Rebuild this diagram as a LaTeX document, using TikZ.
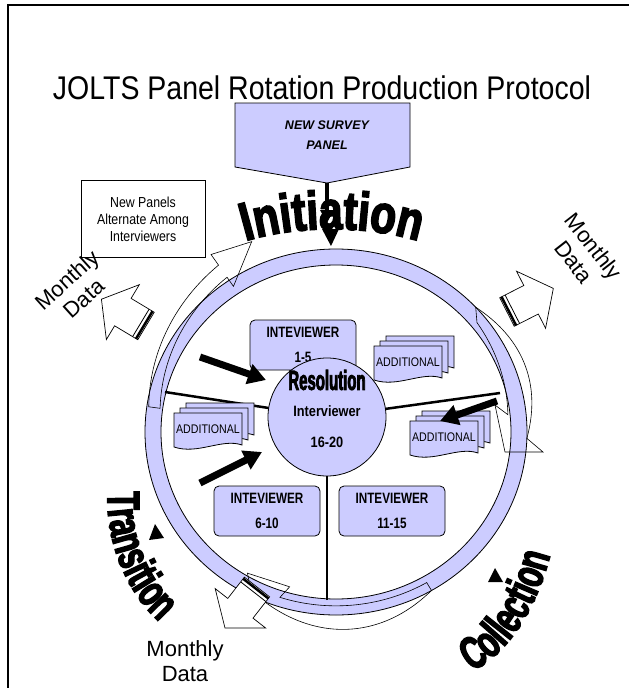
\documentclass[tikz,border=0pt]{standalone}
\usepackage{fontspec}
\setmainfont{Liberation Sans}
\newfontfamily\heavyfont{Liberation Sans}[UprightFont=* Bold, FakeBold=3, FakeStretch=0.78]
\newfontfamily\heavyfontn{Liberation Sans}[UprightFont=* Bold, FakeBold=3, FakeStretch=0.65]
\newfontfamily\narrowfont{Liberation Sans}[FakeStretch=0.85]
\newfontfamily\narrowerfont{Liberation Sans}[FakeStretch=0.78]
\usetikzlibrary{arrows.meta,decorations.text}
\definecolor{lav}{RGB}{204,204,255}
\newcommand\ringcx{336}
\newcommand\ringcy{432}
\newcommand\rcoord[3]{\coordinate (#1) at ({\ringcx+(#3)*191*cos(#2)},{\ringcy-(#3)*183*sin(#2)});}
\newcommand\mdarrow[3]{%
  \begin{scope}[shift={(#1,#2)}, rotate=#3]
    \path[draw=black, line width=0.7, fill=white] (0,-16) -- (27,-16) -- (27,-32) -- (52,0) -- (27,32) -- (27,16) -- (0,16) -- cycle;
    \draw[line width=2.5] (2,-16) -- (2,16);
    \draw[line width=0.8] (6,-16) -- (6,16);
  \end{scope}}
\newcommand\docstack[3]{%
  \begin{scope}[shift={(#2,#3)}]
    \foreach \dx/\dy in {12/-10, 6/-5, 0/0}{
      \path[lavfill] (\dx,\dy) -- (\dx+68,\dy) -- (\dx+68,\dy+32) .. controls (\dx+48,\dy+25) and (\dx+24,\dy+42) .. (\dx,\dy+34) -- cycle;
    }
    \node[font=\narrowfont\fontsize{12.5}{14}\selectfont, inner sep=0] (#1) at (34,16) {ADDITIONAL};
  \end{scope}}
\tikzset{
  lavfill/.style={fill=lav, draw=black, line width=0.8},
  thinline/.style={draw=black, line width=0.6},
  ivbox/.style={lavfill, rounded corners=5, minimum width=106, minimum height=50, align=center,
    font=\narrowerfont\bfseries\fontsize{15}{25}\selectfont, inner sep=0},
  bigarrow/.style={line width=7, -{Triangle[width=20pt,length=18pt]}},
  spoke/.style={line width=2.5},
  mdtext/.style={font=\fontsize{22}{25}\selectfont, align=center, inner sep=0},
}
\begin{document}
\begin{tikzpicture}[x=1pt,y=-1pt]
\useasboundingbox (0,0) rectangle (629,688);
\fill[white] (0,0) rectangle (629,688);
\draw[line width=1.5] (8,690) -- (8,5) -- (631,5);

% title
\node[font=\fontsize{28.5}{30}\selectfont, inner sep=0] (title) at (322,88) {\scalebox{1}[1.15]{JOLTS Panel Rotation Production Protocol}};

% new survey panel
\path[lavfill] (235,103) -- (410,103) -- (410,167) -- (327,183) -- (235,167) -- cycle;
\coordinate (nspTip) at (327,183);
\node[font=\bfseries\itshape\fontsize{12.5}{20}\selectfont, align=center] (nsp) at (327,135) {NEW SURVEY\\PANEL};
\coordinate (initTop) at (327,223);
\draw[line width=3.5, -{Triangle[width=13pt,length=13pt]}] (nspTip) -- (initTop);

% note box
\node[draw, line width=0.8, minimum width=124, minimum height=77, align=center,
  font=\narrowfont\fontsize{14.5}{17}\selectfont] (np) at (143,219) {New Panels\\Alternate Among\\Interviewers};

% ring
\path[lavfill, even odd rule] (\ringcx,\ringcy) ellipse [x radius=191, y radius=183]
  (\ringcx,\ringcy) ellipse [x radius=175, y radius=167];

% curved arrow A (upper left)
\rcoord{aHo}{124}{1.17}
\rcoord{aTip}{113}{1.13}
\rcoord{aHi}{124}{0.96}
\draw[thinline] plot[domain=172:124, samples=40] ({\ringcx+(0.99+0.00229*(172-\x))*191*cos(\x)},{\ringcy-(0.99+0.00229*(172-\x))*183*sin(\x)})
  -- (aHo) -- (aTip) -- (aHi)
  -- plot[domain=124:172, samples=40] ({\ringcx+(0.93+0.00188*(172-\x))*191*cos(\x)},{\ringcy-(0.93+0.00188*(172-\x))*183*sin(\x)}) -- cycle;

% curved arrow B (right)
\coordinate (bHo) at (543,452);
\coordinate (bTip) at (505,452);
\coordinate (bHi) at (495,405);
\draw[thinline] plot[domain=43:-2, samples=40] ({\ringcx+(1+0.055*sin(4*(43-\x)))*191*cos(\x)},{\ringcy-(1+0.055*sin(4*(43-\x)))*183*sin(\x)})
  -- (bHo) -- (bTip) -- (bHi)
  -- plot[domain=6:39, samples=40] ({\ringcx+(0.905+0.00136*(\x-6))*191*cos(\x)},{\ringcy-(0.905+0.00136*(\x-6))*183*sin(\x)}) -- cycle;

% curved arrow C (bottom)
\rcoord{cHo}{-117}{0.98}
\rcoord{cTip}{-121}{0.9}
\rcoord{cHi}{-106}{0.88}
\draw[thinline] plot[domain=-60:-112, samples=40] ({\ringcx+(1+0.08*sin(3.46*(-60-\x)))*191*cos(\x)},{\ringcy-(1+0.08*sin(3.46*(-60-\x)))*183*sin(\x)})
  -- (cHo) -- (cTip) -- (cHi)
  -- plot[domain=-108:-60, samples=40] ({\ringcx+0.95*191*cos(\x)},{\ringcy-0.95*183*sin(\x)}) -- cycle;

% monthly data arrows
\mdarrow{146}{326}{149}
\mdarrow{507}{312}{27}
\mdarrow{257}{587}{232}

\node[mdtext, rotate=42] (mdUL) at (75,289) {Monthly\\Data};
\node[mdtext, rotate=-52] (mdUR) at (584,254) {Monthly\\Data};
\node[mdtext] (mdB) at (185,661) {Monthly\\Data};

% spokes
\coordinate (resC) at (327,417);
\coordinate (spL) at (165,392);
\coordinate (spR) at (500,393);
\coordinate (spB) at (327,600);
\draw[spoke] (spL) -- (resC);
\draw[spoke] (spR) -- (resC);
\draw[spoke] (spB) -- (resC);

% interviewer boxes
\node[ivbox] (iv1) at (303,345) {INTEVIEWER\\1-5};
\node[ivbox] (iv2) at (267,511) {INTEVIEWER\\6-10};
\node[ivbox] (iv3) at (392,511) {INTEVIEWER\\11-15};

% additional stacks
\docstack{addUR}{374}{346}
\docstack{addL}{174}{413}
\docstack{addR}{410}{421}

% thick arrows
\coordinate (a1s) at (200,357); \coordinate (a1e) at (266,380);
\coordinate (a2s) at (497,401); \coordinate (a2e) at (440,421);
\coordinate (a3s) at (200,483); \coordinate (a3e) at (262,452);
\draw[bigarrow] (a1s) -- (a1e);
\draw[bigarrow] (a2s) -- (a2e);
\draw[bigarrow] (a3s) -- (a3e);

% resolution circle
\node[circle, lavfill, minimum size=118, inner sep=0] (res) at (resC) {};
\node[font=\heavyfontn\fontsize{23}{24}\selectfont, inner sep=0] (resT) at (327,380) {\scalebox{1}[1.2]{Resolution}};
\node[font=\narrowfont\bfseries\fontsize{15}{17}\selectfont, inner sep=0] (resI) at (327,411) {Interviewer};
\node[font=\narrowfont\bfseries\fontsize{15}{17}\selectfont, inner sep=0] (resN) at (327,442) {16-20};

% curved headings
\path[decorate, decoration={text along path, text align=center,
  text={|\heavyfont\fontsize{54}{54}\selectfont|Initiation}}]
  (236,244) .. controls (295,224) and (369,224) .. (428,244);
\path[decorate, decoration={text along path, text align=center,
  text={|\heavyfontn\fontsize{46}{46}\selectfont|Transition}}]
  (108,488) .. controls (104,535) and (124,592) .. (162,624);
\path[decorate, decoration={text along path, text align=center,
  text={|\heavyfontn\fontsize{46}{46}\selectfont|Collection}}]
  (465,674) .. controls (500,662) and (536,617) .. (552,548);

% small triangles
\fill (322,229) -- (339,229) -- (331,246) -- cycle;
\fill (149,540) -- (164,538) -- (155,524) -- cycle;
\fill (488,582) -- (503,582) -- (495,568) -- cycle;
\end{tikzpicture}
\end{document}
